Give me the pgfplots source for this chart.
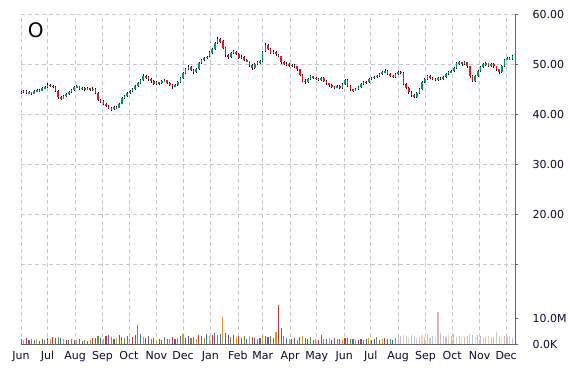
\documentclass[border=0pt]{standalone}
\usepackage{fontspec}
\setmainfont{DejaVu Sans}
\usepackage{pgfplots}
\pgfplotsset{compat=1.18}
\usepackage{pgfplotstable}
\definecolor{gridc}{RGB}{200,200,200}
\definecolor{upc}{RGB}{0,150,110}
\definecolor{dnc}{RGB}{235,20,20}
\definecolor{volc0}{RGB}{70,110,180}
\definecolor{volc1}{RGB}{230,150,40}
\definecolor{volc2}{RGB}{190,60,50}
\definecolor{volc3}{RGB}{120,80,160}
\definecolor{volc4}{RGB}{110,150,50}
\definecolor{labc}{RGB}{10,10,50}
\definecolor{axc}{RGB}{100,100,100}

\pgfplotstableread{
x o h l c v
0 44.2 44.6 44.0 44.4 2.1
3 44.4 44.8 44.2 44.6 1.6
6 44.6 44.7 43.9 44.1 2.3
9 44.1 44.5 43.9 44.3 1.4
12 44.3 44.4 43.8 44.0 1.9
15 44.0 44.7 43.9 44.5 1.5
18 44.5 45.0 44.3 44.7 1.8
21 44.7 44.9 44.4 44.6 1.3
24 44.6 45.3 44.5 45.1 2.0
27 45.1 45.6 44.9 45.4 1.7
30 45.4 46.1 45.2 45.8 2.5
33 45.8 46.0 45.4 45.6 1.9
36 45.6 45.8 45.1 45.4 2.6
39 45.4 45.5 44.4 44.6 2.2
42 44.6 44.7 43.0 43.3 2.8
45 43.3 43.5 42.7 43.0 2.4
48 43.0 43.8 42.9 43.6 1.8
51 43.6 44.1 43.4 43.9 1.5
54 43.9 44.5 43.7 44.3 1.6
57 44.3 45.0 44.1 44.8 2.0
60 44.8 45.5 44.6 45.3 1.4
63 45.3 45.8 45.1 45.5 1.7
66 45.5 45.6 44.8 45.0 1.9
69 45.0 45.4 44.8 45.2 1.3
72 45.2 45.3 44.6 44.9 1.5
75 44.9 45.4 44.7 45.1 1.2
78 45.1 45.2 44.5 44.8 1.6
81 44.8 45.3 44.6 45.0 2.2
84 45.0 45.1 44.0 44.2 2.4
87 44.2 44.3 42.5 42.8 2.9
90 42.8 43.0 42.2 42.5 2.3
93 42.5 42.7 41.8 42.0 2.1
96 42.0 42.2 41.3 41.6 3.0
99 41.6 41.8 40.9 41.2 3.4
102 41.2 41.4 40.6 40.9 2.6
105 40.9 41.5 40.7 41.3 2.0
108 41.3 41.5 40.9 41.2 2.5
111 41.2 42.2 41.1 42.0 3.3
114 42.0 43.4 41.9 43.2 2.7
117 43.2 43.8 43.0 43.6 2.2
120 43.6 44.4 43.4 44.2 3.1
123 44.2 44.7 44.0 44.5 2.4
126 44.5 45.2 44.3 45.0 2.8
129 45.0 45.8 44.8 45.6 3.6
132 45.6 46.4 45.4 46.2 7.3
135 46.2 47.0 46.0 46.8 3.9
138 46.8 47.9 46.6 47.6 2.6
141 47.6 47.8 47.0 47.3 2.2
144 47.3 47.5 46.6 46.9 2.9
147 46.9 47.1 46.2 46.5 2.0
150 46.5 46.7 45.7 46.0 2.3
153 46.0 46.5 45.8 46.3 1.6
156 46.3 46.4 45.8 46.1 1.9
159 46.1 46.7 45.9 46.5 1.4
162 46.5 46.9 46.3 46.7 2.6
165 46.7 46.8 45.9 46.2 1.8
168 46.2 46.3 45.6 45.9 2.1
171 45.9 46.0 45.0 45.5 2.7
174 45.5 46.0 45.3 45.8 1.9
177 45.8 46.5 45.6 46.3 2.4
180 46.3 47.4 46.1 47.2 3.0
183 47.2 48.4 47.0 48.2 3.8
186 48.2 49.1 48.0 48.9 2.5
189 48.9 49.7 48.7 49.4 3.2
192 49.4 49.5 48.5 48.8 2.2
195 48.8 49.0 48.0 48.3 2.8
198 48.3 49.2 48.1 49.0 2.0
201 49.0 50.4 48.8 50.2 3.5
204 50.2 51.0 50.0 50.8 2.9
207 50.8 51.4 50.6 51.2 2.3
210 51.2 51.7 51.0 51.5 3.7
213 51.5 52.5 51.3 52.3 3.0
216 52.3 53.2 52.1 53.0 3.6
219 53.0 54.4 52.8 54.2 4.1
222 54.2 55.4 54.0 55.0 3.4
225 55.0 55.2 54.2 54.5 3.8
228 54.5 54.7 52.9 53.2 10.4
231 53.2 53.4 51.5 51.8 4.2
234 51.8 52.0 51.1 51.4 3.5
237 51.4 52.4 51.2 52.2 2.8
240 52.2 52.8 52.0 52.5 3.3
243 52.5 52.6 51.7 52.0 2.6
246 52.0 52.1 50.9 51.2 3.0
249 51.2 51.8 51.0 51.5 2.4
252 51.5 51.6 50.5 50.8 2.9
255 50.8 51.0 50.3 50.6 2.1
258 50.6 50.7 49.5 49.8 3.1
261 49.8 50.0 48.7 49.2 2.7
264 49.2 50.2 49.0 50.0 2.3
267 50.0 50.5 49.8 50.3 2.0
270 50.3 50.9 50.1 50.7 2.5
273 50.7 52.7 50.5 52.5 3.4
276 52.5 54.1 52.3 53.8 3.0
279 53.8 54.0 52.7 53.0 2.6
282 53.0 53.2 51.9 52.2 3.2
285 52.2 52.7 52.0 52.4 2.2
288 52.4 52.5 51.6 51.9 4.8
291 51.9 52.0 51.3 51.6 15.0
294 51.6 51.7 50.1 50.4 6.3
297 50.4 50.6 49.7 50.0 3.2
300 50.0 50.3 49.6 49.9 2.4
303 49.9 50.1 49.3 49.6 2.0
306 49.6 50.0 49.4 49.8 1.8
309 49.8 49.9 49.2 49.5 2.5
312 49.5 49.6 48.6 48.9 1.6
315 48.9 49.0 47.5 47.8 2.8
318 47.8 47.9 46.3 46.6 3.1
321 46.6 46.9 46.0 46.4 2.2
324 46.4 47.2 46.2 47.0 1.9
327 47.0 47.8 46.8 47.5 2.6
330 47.5 47.6 46.9 47.2 1.7
333 47.2 47.4 46.7 47.0 2.0
336 47.0 47.1 46.5 46.8 1.5
339 46.8 47.4 46.6 47.2 3.3
342 47.2 47.3 46.3 46.6 2.1
345 46.6 46.7 45.8 46.1 1.8
348 46.1 46.2 45.4 45.7 2.3
351 45.7 45.9 45.2 45.5 1.6
354 45.5 45.6 45.0 45.3 2.4
357 45.3 45.8 45.1 45.6 1.9
360 45.6 45.7 44.9 45.2 2.0
363 45.2 46.2 45.0 46.0 1.7
366 46.0 47.0 45.8 46.8 2.2
369 46.8 46.9 45.3 45.6 2.5
372 45.6 45.7 44.6 44.9 1.8
375 44.9 45.0 44.4 44.7 2.1
378 44.7 45.2 44.5 45.0 1.4
381 45.0 45.6 44.8 45.4 1.6
384 45.4 46.2 45.2 46.0 2.0
387 46.0 46.6 45.8 46.4 1.5
390 46.4 46.5 46.0 46.3 1.8
393 46.3 47.2 46.1 47.0 2.3
396 47.0 47.4 46.8 47.2 1.6
399 47.2 47.6 47.0 47.4 1.9
402 47.4 47.8 47.2 47.6 2.6
405 47.6 48.2 47.4 48.0 1.7
408 48.0 48.5 47.8 48.3 2.1
411 48.3 48.9 48.1 48.6 2.4
414 48.6 48.7 47.7 48.0 1.8
417 48.0 48.1 47.3 47.6 2.0
420 47.6 47.7 47.1 47.4 1.6
423 47.4 48.1 47.2 47.9 2.2
426 47.9 48.6 47.7 48.4 2.7
429 48.4 48.5 47.9 48.2 3.0
432 48.2 48.3 45.7 46.0 3.6
435 46.0 46.1 44.9 45.2 3.2
438 45.2 45.3 44.0 44.3 2.8
441 44.3 44.5 43.4 43.8 3.5
444 43.8 44.0 43.1 43.4 2.9
447 43.4 44.4 43.2 44.2 2.4
450 44.2 45.2 44.0 45.0 2.6
453 45.0 46.5 44.8 46.3 3.3
456 46.3 47.2 46.1 47.0 2.7
459 47.0 47.8 46.8 47.6 3.9
462 47.6 47.7 46.9 47.2 2.5
465 47.2 47.3 46.7 47.0 3.1
468 47.0 47.1 46.5 46.8 2.8
471 46.8 47.4 46.6 47.2 12.3
474 47.2 47.3 46.7 47.0 4.3
477 47.0 47.6 46.8 47.4 3.0
480 47.4 48.1 47.2 47.9 2.6
483 47.9 48.5 47.7 48.3 3.4
486 48.3 48.8 48.1 48.6 2.9
489 48.6 49.4 48.4 49.2 3.7
492 49.2 50.3 49.0 50.1 2.8
495 50.1 50.7 49.9 50.4 3.2
498 50.4 50.5 49.7 50.0 2.4
501 50.0 50.6 49.8 50.3 2.7
504 50.3 50.4 49.2 49.5 3.0
507 49.5 49.6 47.2 47.5 3.8
510 47.5 47.7 46.3 46.6 3.3
513 46.6 47.8 46.4 47.6 2.6
516 47.6 48.8 47.4 48.6 3.5
519 48.6 49.6 48.4 49.4 2.9
522 49.4 50.1 49.2 49.9 2.3
525 49.9 50.4 49.7 50.1 2.7
528 50.1 50.2 49.3 49.6 3.1
531 49.6 50.2 49.4 50.0 2.2
534 50.0 50.1 49.2 49.5 2.8
537 49.5 49.6 48.6 48.9 4.6
540 48.9 49.0 48.0 48.3 3.0
543 48.3 49.8 48.1 49.6 2.5
546 49.6 51.1 49.4 50.9 3.2
549 50.9 51.4 50.7 51.2 2.6
552 51.2 51.3 50.7 51.0 2.9
555 51.0 51.7 50.8 51.5 2.4
}\pricedata

\begin{document}
\begin{tikzpicture}
\useasboundingbox (-21pt,-26pt) rectangle (549pt,344pt);
\begin{axis}[
  scale only axis, width=494pt, height=330pt,
  xmin=0, xmax=558, ymin=-6, ymax=60,
  axis x line*=bottom, axis y line*=right,
  axis line style={draw=axc, line width=0.6pt},
  xtick={0,30,61,92,122,153,183,214,245,273,304,334,365,395,426,457,487,518,548},
  xticklabels={Jun,Jul,Aug,Sep,Oct,Nov,Dec,Jan,Feb,Mar,Apr,May,Jun,Jul,Aug,Sep,Oct,Nov,Dec},
  ytick={20,30,40,50,60},
  yticklabels={20.00,30.00,40.00,50.00,60.00},
  extra y ticks={10}, extra y tick labels={},
  extra y tick style={grid=major, tick style={draw=none}},
  grid=major,
  major grid style={draw=gridc, dash pattern=on 4pt off 3pt, line width=0.7pt},
  tick align=outside, major tick length=3pt,
  xtick style={draw=none},
  ytick style={draw=axc, line width=0.6pt},
  ticklabel style={font=\fontsize{11}{13}\selectfont, text=labc},
  yticklabel style={xshift=11pt},
  xticklabel style={yshift=-1pt},
]
\addplot[draw=none, mark=none, forget plot, error bars/.cd, y dir=both, y explicit, error mark=none,
  error bar style={draw=black, line width=0.6pt, solid}]
  table[x=x, y expr={(\thisrow{h}+\thisrow{l})/2}, y error expr={(\thisrow{h}-\thisrow{l})/2}] {\pricedata};
\addplot[draw=none, mark=none, forget plot, error bars/.cd, y dir=both, y explicit, error mark=none,
  error bar style={draw=upc, line width=1.6pt, solid}]
  table[x=x, y expr={\thisrow{c}>=\thisrow{o} ? (\thisrow{o}+\thisrow{c})/2 : nan},
        y error expr={max(abs(\thisrow{c}-\thisrow{o})/2,0.08)}] {\pricedata};
\addplot[draw=none, mark=none, forget plot, error bars/.cd, y dir=both, y explicit, error mark=none,
  error bar style={draw=dnc, line width=1.6pt, solid}]
  table[x=x, y expr={\thisrow{c}<\thisrow{o} ? (\thisrow{o}+\thisrow{c})/2 : nan},
        y error expr={max(abs(\thisrow{c}-\thisrow{o})/2,0.08)}] {\pricedata};
\node[font=\fontsize{20}{24}\selectfont, text=black] at (rel axis cs:0.030,0.950) {O};
\end{axis}
\begin{axis}[
  scale only axis, width=494pt, height=330pt,
  xmin=0, xmax=558, ymin=0, ymax=126.92,
  axis x line=none, axis y line*=right,
  axis line style={draw=axc, line width=0.6pt},
  ytick={0,10}, yticklabels={0.0K,10.0M},
  tick align=outside, major tick length=3pt,
  ytick style={draw=axc, line width=0.6pt},
  ticklabel style={font=\fontsize{11}{13}\selectfont, text=labc},
  yticklabel style={xshift=11pt},
]
\pgfplotsinvokeforeach{0,...,4}{
  \addplot[ycomb, draw=volc#1, line width=1.1pt, mark=none]
    table[x=x, y expr={and(mod(round(\thisrow{x}/3),5)==#1, \thisrow{x}<425) ? \thisrow{v} : nan}] {\pricedata};
  \addplot[ycomb, draw=volc#1!40, line width=1.1pt, mark=none]
    table[x=x, y expr={and(mod(round(\thisrow{x}/3),5)==#1, \thisrow{x}>=425) ? \thisrow{v} : nan}] {\pricedata};
}
\end{axis}
\end{tikzpicture}
\end{document}
